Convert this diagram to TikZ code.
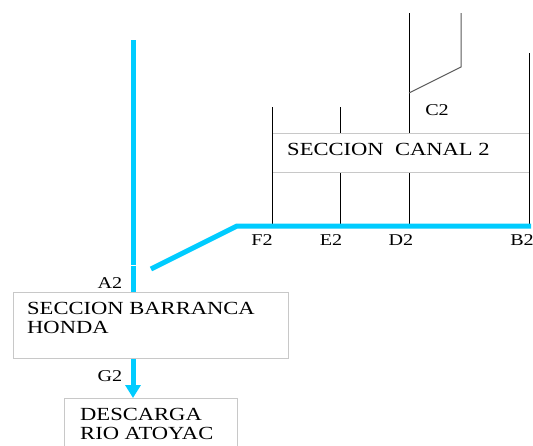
\documentclass[tikz,border=0pt]{standalone}
\usepackage{fontspec}
\setmainfont{Liberation Serif}
\newfontfamily\wideserif[FakeStretch=1.22]{Liberation Serif}
\usetikzlibrary{arrows.meta}
\definecolor{flow}{RGB}{0,204,255}
\definecolor{boxgray}{RGB}{200,200,200}
\definecolor{diaggray}{RGB}{90,90,90}
\tikzset{
  flowline/.style={draw=flow, line width=5pt},
  thinline/.style={draw=black, line width=1pt},
  secbox/.style={draw=boxgray, line width=1pt, fill=white, inner sep=0pt, anchor=north west},
  bigtext/.style={inner sep=0pt, anchor=base west, font=\wideserif\fontsize{18.5}{20}\selectfont},
  lbl/.style={inner sep=0pt, anchor=base, font=\wideserif\fontsize{16.5}{18}\selectfont}
}
\begin{document}
\begin{tikzpicture}[x=1pt,y=-1pt]
\clip (0,0) rectangle (533,445);
\fill[white] (0,0) rectangle (533,445);

% coordinates
\coordinate (topA) at (133,40);
\coordinate (brkA) at (133,264.5);
\coordinate (brkB) at (133,265.5);
\coordinate (diagS) at (151,269);
\coordinate (diagE) at (237,226);
\coordinate (endB) at (531,226);
\coordinate (F2b) at (272,226);
\coordinate (F2t) at (272,107);
\coordinate (E2b) at (340,226);
\coordinate (E2t) at (340,107);
\coordinate (D2b) at (409,226);
\coordinate (D2t) at (409,13);
\coordinate (B2b) at (529,226);
\coordinate (B2t) at (529,53);
\coordinate (Cj) at (409,93);
\coordinate (Ck) at (461,67);
\coordinate (Ct) at (461,13);

% boxes
\node[secbox, minimum width=275pt, minimum height=66pt] (bh) at (13,292) {};
\node[secbox, minimum width=173pt, minimum height=60pt] (dr) at (64,398) {};

% canal section lines (interrupted by box)
\draw[thinline] (E2t) -- (E2b);
\draw[thinline] (D2t) -- (D2b);
\draw[draw=diaggray, line width=1pt] (Cj) -- (Ck) -- (Ct);
\node[secbox, minimum width=257pt, minimum height=39pt] (cn) at (272,133) {};
\draw[thinline] (F2t) -- (F2b);
\draw[thinline] (B2t) -- (B2b);

% blue flows
\draw[flowline] (topA) -- (brkA);
\draw[flowline] (brkB) -- (bh.north -| topA);
\draw[flowline] (diagS) -- (diagE) -- (endB);
\draw[flowline, -{Triangle[width=15pt,length=13pt]}] (bh.south -| topA) -- (dr.north -| topA);

% texts
\node[bigtext] (t1) at (27,314) {SECCION BARRANCA};
\node[bigtext] (t2) at (27,333.5) {HONDA};
\node[bigtext] (t3) at (80,420) {DESCARGA};
\node[bigtext] (t4) at (80,439) {RIO ATOYAC};
\node[bigtext] (t5) at (287,155) {SECCION\ \ CANAL 2};

% labels
\node[lbl] (lA) at (110,288) {A2};
\node[lbl] (lG) at (110,381) {G2};
\node[lbl] (lF) at (262,245) {F2};
\node[lbl] (lE) at (331,245) {E2};
\node[lbl] (lD) at (401,245) {D2};
\node[lbl] (lB) at (522,245) {B2};
\node[lbl] (lC) at (437,115) {C2};
\end{tikzpicture}
\end{document}
